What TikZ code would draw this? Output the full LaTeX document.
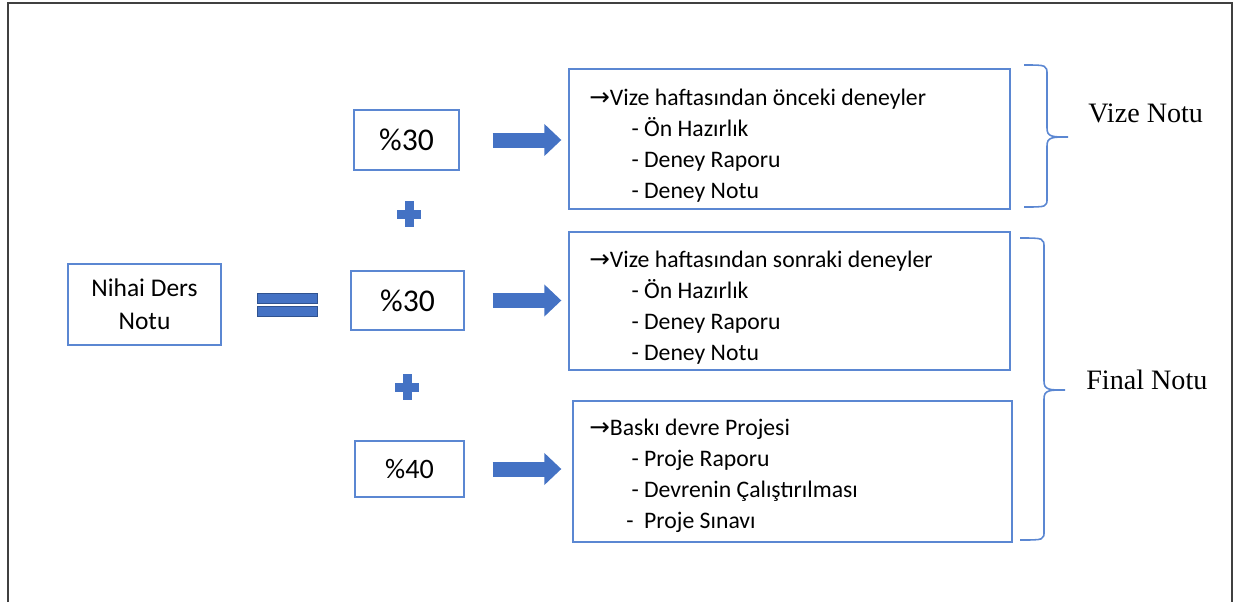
\documentclass[tikz,border=0pt]{standalone}
\usepackage{fontspec}
\setmainfont{Carlito}
\newfontfamily\notefont{Liberation Serif}
\newfontfamily\symfont{DejaVu Sans}
\usetikzlibrary{arrows.meta,positioning,calc}

\definecolor{boxblue}{RGB}{91,135,210}
\definecolor{fillblue}{RGB}{68,114,196}
\definecolor{edgeblue}{RGB}{47,82,143}
\newcommand{\itemarrow}{{\symfont\fontsize{14}{14}\selectfont →}}

\begin{document}
\begin{tikzpicture}[x=0.02cm, y=-0.02cm,
    frame/.style={draw=boxblue, line width=0.8pt, rectangle, inner sep=0pt},
    pct/.style={frame, font=\fontsize{18}{20}\selectfont},
    list/.style={frame, minimum width=8.82cm, minimum height=2.8cm},
    items/.style={align=left, anchor=west, inner sep=0pt, font=\fontsize{13.5}{17.6}\selectfont},
    blockarrow/.style={-{Triangle[length=0.34cm, width=0.62cm]}, line width=0.3cm, draw=fillblue},
    brace/.style={draw=boxblue, line width=0.9pt},
    note/.style={anchor=west, inner sep=0pt, font=\notefont\fontsize{16}{18}\selectfont}
]
\useasboundingbox (0,0) rectangle (1241,602);
\draw[line width=1.2pt, black!75] (8,602) -- (8,3) -- (1232,3) -- (1232,602);

% left side
\node[frame, minimum width=3.06cm, minimum height=1.62cm, align=center,
      font=\fontsize{14.5}{18.7}\selectfont] (nihai) at (144.5,304.5) {\raisebox{-3pt}{Nihai Ders}\\\raisebox{-3pt}{Notu}};
\fill[fillblue, draw=edgeblue, line width=0.4pt] (257,293) rectangle (317,303);
\fill[fillblue, draw=edgeblue, line width=0.4pt] (257,306) rectangle (317,316);

% percentages
\node[pct, minimum width=2.1cm, minimum height=1.2cm] (p30a) at (406.5,140) {\%30};
\node[pct, minimum width=2.26cm, minimum height=1.18cm] (p30b) at (407.5,300.5) {\%30};
\node[pct, minimum width=2.18cm, minimum height=1.12cm, font=\fontsize{16}{18}\selectfont] (p40) at (409.5,469) {\%40};

\coordinate (plusa) at (409,214);
\coordinate (plusb) at (407,387);
\foreach \p in {plusa,plusb} {
  \fill[fillblue] ($(\p)+(-12,-4.5)$) rectangle ($(\p)+(12,4.5)$);
  \fill[fillblue] ($(\p)+(-4.5,-13)$) rectangle ($(\p)+(4.5,13)$);
}

% lists
\node[list] (lista) at (789.5,139) {};
\node[list, minimum height=2.76cm] (listb) at (789.5,301) {};
\node[list, minimum width=8.78cm, minimum height=2.82cm] (listc) at (792.5,471.5) {};

\node[items] (itemsa) at (589,146) {\itemarrow Vize haftasından önceki deneyler\\
  \hspace*{24pt}- Ön Hazırlık\\
  \hspace*{24pt}- Deney Raporu\\
  \hspace*{24pt}- Deney Notu};
\node[items] (itemsb) at (589,308) {\itemarrow Vize haftasından sonraki deneyler\\
  \hspace*{24pt}- Ön Hazırlık\\
  \hspace*{24pt}- Deney Raporu\\
  \hspace*{24pt}- Deney Notu};
\node[items] (itemsc) at (589,476) {\itemarrow Baskı devre Projesi\\
  \hspace*{24pt}- Proje Raporu\\
  \hspace*{24pt}- Devrenin Çalıştırılması\\
  \hspace*{21pt}-\ \ Proje Sınavı};

% block arrows
\draw[blockarrow, shorten <=0.66cm, shorten >=0.14cm] (p30a.east) -- (p30a.east -| lista.west);
\draw[blockarrow, shorten <=0.56cm, shorten >=0.14cm] (p30b.east) -- (p30b.east -| listb.west);
\draw[blockarrow, shorten <=0.56cm, shorten >=0.22cm] (p40.east) -- (p40.east -| listc.west);

% braces
\draw[brace] (1024,65) .. controls (1047,65) .. (1047,75) -- (1047,128)
  .. controls (1047,137) and (1052,137) .. (1068,137)
  .. controls (1052,137) and (1047,137) .. (1047,146) -- (1047,198)
  .. controls (1047,207) .. (1024,207);
\draw[brace] (1020,238) .. controls (1044,238) .. (1044,248) -- (1044,381)
  .. controls (1044,390) and (1049,390) .. (1065,390)
  .. controls (1049,390) and (1044,390) .. (1044,399) -- (1044,531)
  .. controls (1044,540) .. (1020,540);

\node[note] (vize) at (1088,113) {Vize Notu};
\node[note] (final) at (1086,380) {Final Notu};
\end{tikzpicture}
\end{document}
